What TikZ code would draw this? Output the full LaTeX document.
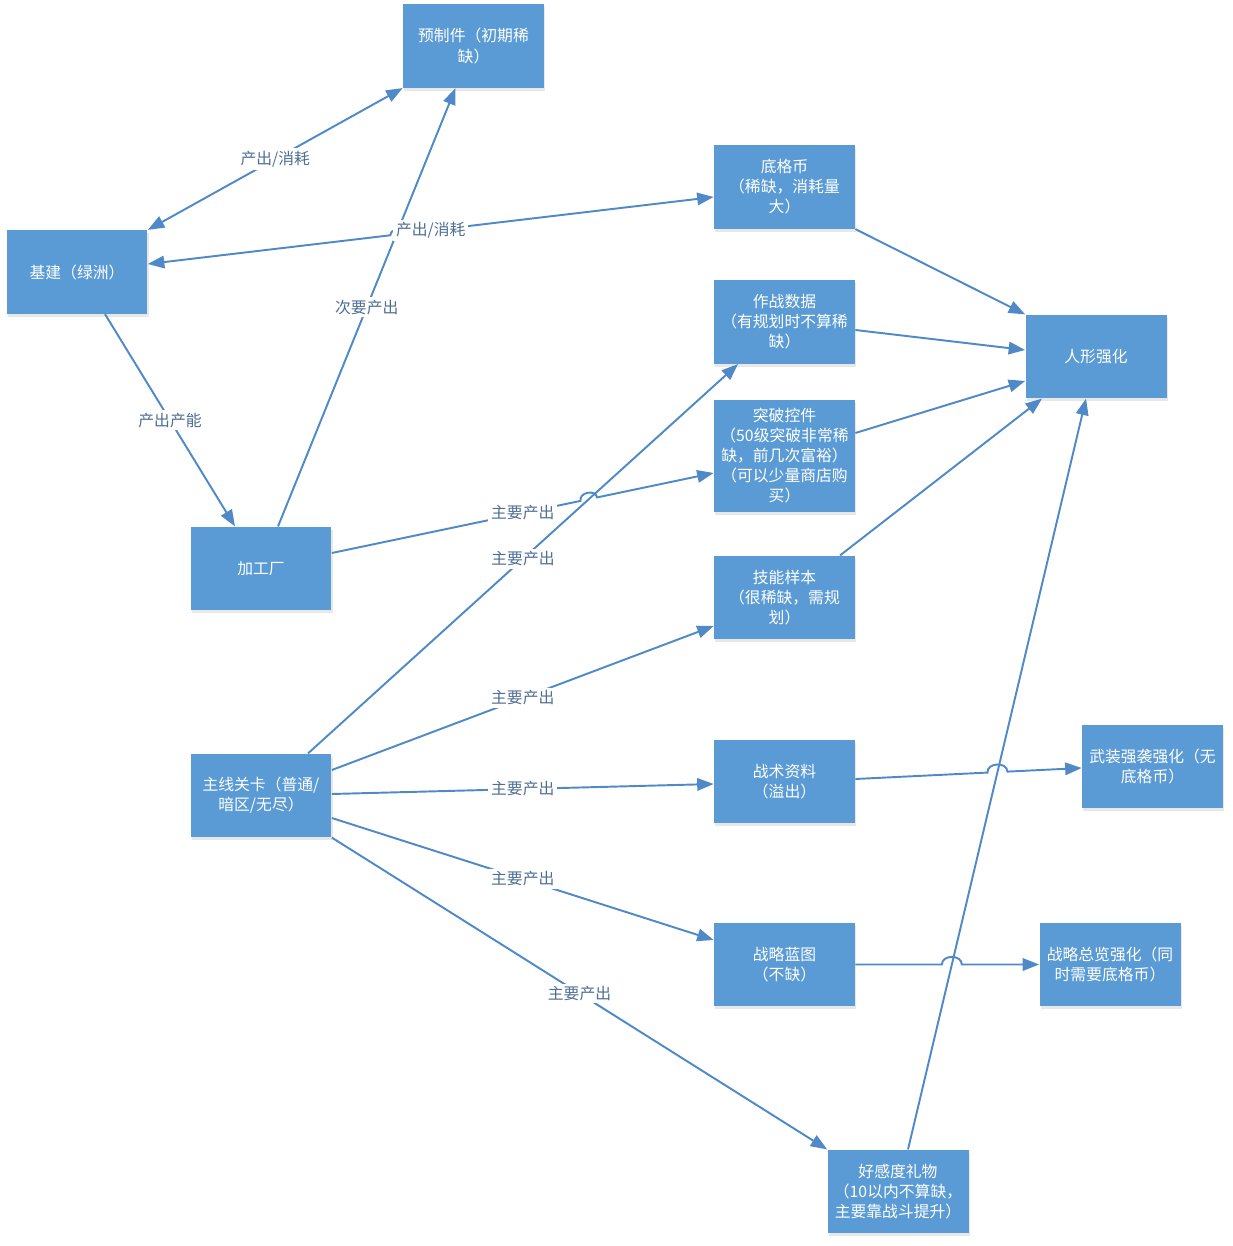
\documentclass[tikz,border=0pt]{standalone}
\usepackage{fontspec}
\setmainfont{Noto Sans CJK SC}
\usetikzlibrary{arrows.meta,calc,intersections,shadows}
\definecolor{boxblue}{HTML}{5B9BD5}
\definecolor{lineblue}{HTML}{5089C8}
\definecolor{lbltext}{HTML}{4F6E95}
\tikzset{
	>={Triangle[length=0.33cm,width=0.25cm]},
	box/.style={rectangle,fill=boxblue,text=white,minimum width=2.82cm,minimum height=1.67cm,align=center,inner sep=1pt,font=\fontsize{9}{11.4}\selectfont,drop shadow={shadow xshift=0.6pt,shadow yshift=-1.6pt,opacity=0.18}},
	conn/.style={draw=lineblue,line width=1.1pt,->},
	lbl/.style={fill=white,text=lbltext,inner sep=1.5pt,font=\fontsize{9}{11}\selectfont},
	hop/.style={bend left=90,looseness=1.3}
}
\begin{document}
\begin{tikzpicture}[x=0.02cm,y=-0.02cm]
	\useasboundingbox[fill=white] (0,0) rectangle (1232,1246);
	\node[box] (yz) at (473.5,46) {预制件（初期稀\\缺）};
	\node[box] (jz) at (77,272) {基建（绿洲）};
	\node[box] (dgb) at (784.5,187) {底格币\\（稀缺，消耗量\\大）};
	\node[box] (zzsj) at (784.5,322) {作战数据\\（有规划时不算稀\\缺）};
	\node[box,minimum height=2.24cm] (tpkj) at (784.5,456) {突破控件\\（50级突破非常稀\\缺，前几次富裕）\\（可以少量商店购\\买）};
	\node[box] (rxqh) at (1096,356.5) {人形强化};
	\node[box] (jgc) at (261,568.5) {加工厂};
	\node[box] (jnyb) at (784.5,597.5) {技能样本\\（很稀缺，需规\\划）};
	\node[box] (zxgk) at (261,795.5) {主线关卡（普通/\\暗区/无尽）};
	\node[box] (zszl) at (784.5,781.5) {战术资料\\（溢出）};
	\node[box] (wzqx) at (1152.5,766.5) {武装强袭强化（无\\底格币）};
	\node[box] (zllt) at (784.5,964.5) {战略蓝图\\（不缺）};
	\node[box] (zlzl) at (1110,964.5) {战略总览强化（同\\时需要底格币）};
	\node[box] (hgd) at (898,1191.5) {好感度礼物\\（10以内不算缺，\\主要靠战斗提升）};

	\draw[conn,<->] (jz.north east) -- node[lbl]{产出/消耗} (yz.south west);
	\draw[conn] ($(jz.south)+(28,0)$) -- node[lbl]{产出产能} ($(jgc.north)+(-26,0)$);
	\draw[conn,name path=l4] ($(jgc.north)+(17,0)$) -- node[lbl]{次要产出} ($(yz.south)+(-18,0)$);
	\draw[conn,name path=l6] ($(zxgk.north)+(47,0)$) -- node[lbl]{主要产出} ($(zzsj.south)+(-46.5,0)$);
	\draw[conn] ($(zxgk.east)+(0,-25.5)$) -- node[lbl]{主要产出} ($(jnyb.west)+(0,28.5)$);
	\draw[conn] ($(zxgk.east)+(0,-1.5)$) -- node[lbl]{主要产出} ($(zszl.west)+(0,2.5)$);
	\draw[conn] ($(zxgk.east)+(0,22.5)$) -- node[lbl]{主要产出} ($(zllt.west)+(0,-24.5)$);
	\draw[conn] (zxgk.south east) -- node[lbl]{主要产出} (hgd.north west);
	\draw[conn] (dgb.south east) -- (rxqh.north west);
	\draw[conn] ($(zzsj.east)+(0,8)$) -- ($(rxqh.west)+(0,-6.5)$);
	\draw[conn] ($(tpkj.east)+(0,-23)$) -- ($(rxqh.west)+(0,24.5)$);
	\draw[conn] ($(jnyb.north)+(55.5,0)$) -- ($(rxqh.south)+(-54,0)$);
	\draw[conn,name path=l15] ($(hgd.north)+(10,0)$) -- ($(rxqh.south)+(-10,0)$);

	\coordinate (l2a) at ($(jz.east)+(0,-8)$);
	\coordinate (l2b) at ($(dgb.west)+(0,10)$);
	\path[name path=l2] (l2a) -- (l2b);
	\path[name intersections={of=l2 and l4,by=h2}];
	\draw[conn,<->] (l2a) -- ($(h2)!0.12cm!(l2a)$) to[hop] ($(h2)!0.12cm!(l2b)$) -- (l2b);
	\path (l2a) -- node[lbl]{产出/消耗} (l2b);

	\coordinate (l5a) at ($(jgc.east)+(0,-15.5)$);
	\coordinate (l5b) at ($(tpkj.west)+(0,17)$);
	\path[name path=l5] (l5a) -- (l5b);
	\path[name intersections={of=l5 and l6,by=h5}];
	\draw[conn] (l5a) -- ($(h5)!0.17cm!(l5a)$) to[hop] ($(h5)!0.17cm!(l5b)$) -- (l5b);
	\path (l5a) -- node[lbl]{主要产出} (l5b);

	\coordinate (l16a) at ($(zszl.east)+(0,-2.5)$);
	\coordinate (l16b) at ($(wzqx.west)+(0,1.5)$);
	\path[name path=l16] (l16a) -- (l16b);
	\path[name intersections={of=l16 and l15,by=h16}];
	\draw[conn] (l16a) -- ($(h16)!0.2cm!(l16a)$) to[hop] ($(h16)!0.2cm!(l16b)$) -- (l16b);

	\path[name path=l17] (zllt.east) -- (zlzl.west);
	\path[name intersections={of=l17 and l15,by=h17}];
	\draw[conn] (zllt.east) -- ($(h17)!0.2cm!(zllt.east)$) to[hop] ($(h17)!0.2cm!(zlzl.west)$) -- (zlzl.west);
\end{tikzpicture}
\end{document}
